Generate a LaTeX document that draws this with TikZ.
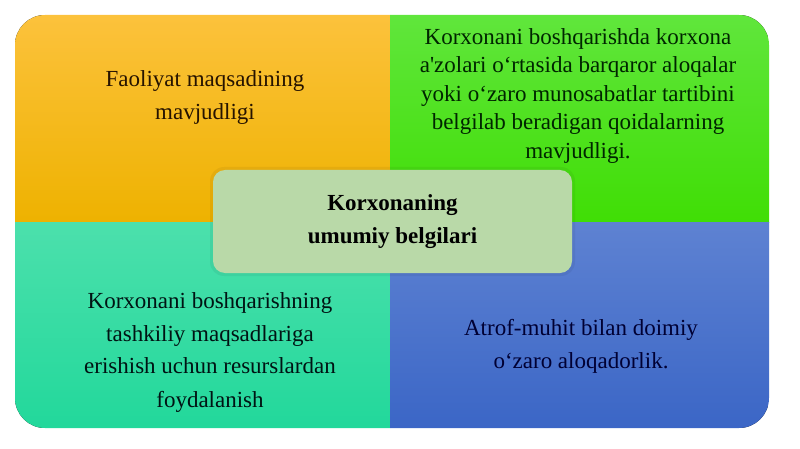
\documentclass[tikz,border=0pt]{standalone}
\usepackage{xcolor}
\usepackage{fontspec}
\setmainfont{Liberation Serif}
\usepackage{tikz}
\usetikzlibrary{calc}

\definecolor{orTop}{HTML}{FCC23C}
\definecolor{orBot}{HTML}{EEB200}
\definecolor{grTop}{HTML}{60E63C}
\definecolor{grBot}{HTML}{40DE05}
\definecolor{tqTop}{HTML}{4CE0AC}
\definecolor{tqBot}{HTML}{22D89B}
\definecolor{blTop}{HTML}{5E82D2}
\definecolor{blBot}{HTML}{3B66C6}
\definecolor{midFill}{HTML}{B9D9A8}

\begin{document}
\begin{tikzpicture}[x=1pt, y=-1pt,
		txt/.style = {align=center, font=\fontsize{23}{33}\selectfont},
		mid/.style = {align=center, font=\bfseries\fontsize{23}{33}\selectfont}]
		\useasboundingbox (0,0) rectangle (800,449);
		
		\begin{scope}
			\path[shape=coordinate]
			(15,15) coordinate(A)
			(769,15) coordinate(B)
			(769,428) coordinate(C)
			(15,428) coordinate(D)
			(390,222) coordinate(M);
			
			\clip[rounded corners=30pt] (A) rectangle (C);
			\fill[top color=orTop, bottom color=orBot] (A) rectangle (M);
			\fill[top color=grTop, bottom color=grBot] (B) rectangle (M);
			\fill[top color=tqTop, bottom color=tqBot] (D) rectangle (M);
			\fill[top color=blTop, bottom color=blBot] (C) rectangle (M);
		\end{scope}
		
		\node[txt, text=black!85!orange] (maqsad) at (205,98)
		{Faoliyat maqsadining\\mavjudligi};
		\node[txt, font=\fontsize{23}{28.5}\selectfont, text=black!85!green] (tartib) at (578,96)
		{Korxonani boshqarishda korxona\\a\textquotesingle zolari o‘rtasida barqaror aloqalar\\yoki o‘zaro munosabatlar tartibini\\belgilab beradigan qoidalarning\\mavjudligi.};
		\node[txt, text=black!85!teal] (resurs) at (210,352)
		{Korxonani boshqarishning\\tashkiliy maqsadlariga\\erishish uchun resurslardan\\foydalanish};
		\node[txt, text=black!80!blue] (muhit) at (581,346)
		{Atrof-muhit bilan doimiy\\o‘zaro aloqadorlik.};
		
		\fill[black, opacity=0.05, rounded corners=14pt] (210,167) rectangle (575,276);
		\node[mid, fill=midFill, rounded corners=12pt, minimum width=359pt, minimum height=103pt] (belgi) at (392.5,221.5)
		{Korxonaning\\umumiy belgilari};
	\end{tikzpicture}
\end{document}
